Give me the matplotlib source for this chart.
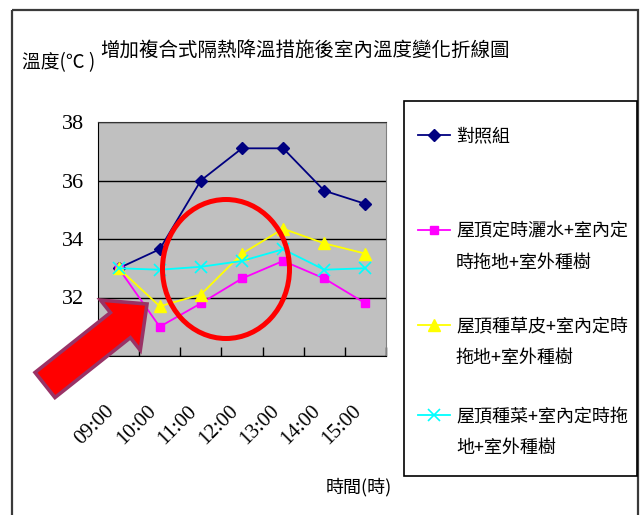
import matplotlib
matplotlib.use("Agg")
import matplotlib.pyplot as plt
import matplotlib.transforms as mtransforms
from matplotlib.patches import Polygon, Ellipse, Rectangle
import numpy as np

plt.rcParams['font.family'] = ['Noto Sans CJK TC', 'DejaVu Sans']

# ---- data ----
times = ["09:00", "10:00", "11:00", "12:00", "13:00", "14:00", "15:00"]
control = [33.0, 33.65, 36.0, 37.1, 37.1, 35.65, 35.2]
roof_water = [33.0, 31.0, 31.8, 32.65, 33.25, 32.65, 31.8]
roof_grass = [33.0, 31.7, 32.1, 33.5, 34.35, 33.85, 33.5]
roof_veg = [33.0, 32.95, 33.05, 33.25, 33.65, 32.95, 33.0]
series_names = ["對照組",
                "屋頂定時灑水+室內定\n時拖地+室外種樹",
                "屋頂種草皮+室內定時\n拖地+室外種樹",
                "屋頂種菜+室內定時拖\n地+室外種樹"]
y_ticks = [30, 32, 34, 36, 38]

W, H = 644, 515
fig = plt.figure(figsize=(W / 100, H / 100), dpi=100)
# pixel coordinates (origin top-left) -> figure
pix = mtransforms.Affine2D().scale(1 / W, -1 / H).translate(0, 1) + fig.transFigure


def fxy(x, y):
    return x / W, 1 - y / H


# outer frame
fig.add_artist(Rectangle((12, 10), 626, 520, transform=pix, fill=False,
                         edgecolor='#3a3a3a', linewidth=1.6, clip_on=False))

ax = fig.add_axes([98 / W, 1 - 356 / H, 288 / W, 234 / H])
ax.set_facecolor('#C0C0C0')
x = np.arange(len(times))

styles = [
    dict(color='#000080', marker='D', markersize=6.5),
    dict(color='#FF00FF', marker='s', markersize=6),
    dict(color='#FFFF00', marker='^', markersize=8),
    dict(color='#00FFFF', marker='x', markersize=8, markeredgewidth=1.2),
]
lines = []
for vals, st in zip([control, roof_water, roof_grass, roof_veg], styles):
    ln, = ax.plot(x, vals, linewidth=1.3, zorder=3, **st)
    lines.append(ln)

ax.set_xlim(-0.5, len(times) - 0.5)
ax.set_ylim(30, 38)
ax.set_yticks(y_ticks)
ax.yaxis.grid(True, color='black', linewidth=1.0)
ax.set_axisbelow(True)
ax.tick_params(axis='y', length=0, pad=10, labelsize=16)
ax.set_xticks(x)
ax.set_xticklabels(times, rotation=45, ha='right', va='top')
ax.tick_params(axis='x', which='major', length=0, pad=33, labelsize=15)
ax.set_xticks(np.arange(-0.5, len(times), 1), minor=True)
ax.tick_params(axis='x', which='minor', direction='in', length=6.5, width=1.0, color='black')
for lab in ax.get_xticklabels() + ax.get_yticklabels():
    lab.set_fontfamily('Liberation Serif')
ax.spines['left'].set_color('black')
ax.spines['bottom'].set_color('black')
ax.spines['top'].set_color('#333333')
ax.spines['right'].set_color('#808080')

# titles
fig.text(*fxy(100, 51), "增加複合式隔熱降溫措施後室內溫度變化折線圖", fontsize=14,
         ha='left', va='center')
fig.text(*fxy(22, 63), "溫度(℃ )", fontsize=13.5, ha='left', va='center')
fig.text(*fxy(326, 487), "時間(時)", fontsize=13, ha='left', va='center')

# legend box
fig.add_artist(Rectangle((404, 101), 233, 375, transform=pix, fill=False,
                         edgecolor='black', linewidth=1.2))
first_y = [136, 231, 326, 416]
for ln, name, yc in zip(lines, series_names, first_y):
    first, *rest = name.split("\n")
    fig.legend(handles=[ln], labels=[first], loc='center left',
               bbox_to_anchor=fxy(418, yc), frameon=False, borderpad=0,
               borderaxespad=0, handlelength=1.75, handletextpad=0.35,
               fontsize=13)
    for i, txt in enumerate(rest, start=1):
        fig.text(*fxy(456, yc + 32 * i), txt, fontsize=13, ha='left', va='center')

# highlight ellipse
fig.add_artist(Ellipse((226, 269), 127, 139, transform=pix, fill=False,
                       edgecolor='#FF0000', linewidth=3.6, zorder=10))

# pointer arrow
tail = np.array([45.0, 385.0])
tip = np.array([147.0, 304.0])
u = (tip - tail) / np.linalg.norm(tip - tail)
n = np.array([-u[1], u[0]])
base = tip - 34 * u
pts = [tail - 16 * n, base - 16 * n, base - 32 * n, tip,
       base + 32 * n, base + 16 * n, tail + 16 * n]
fig.add_artist(Polygon(pts, closed=True, transform=pix, facecolor='#FF0000',
                       edgecolor='#993366', linewidth=2.6, joinstyle='miter', zorder=11))

fig.savefig("out.png", dpi=100)
